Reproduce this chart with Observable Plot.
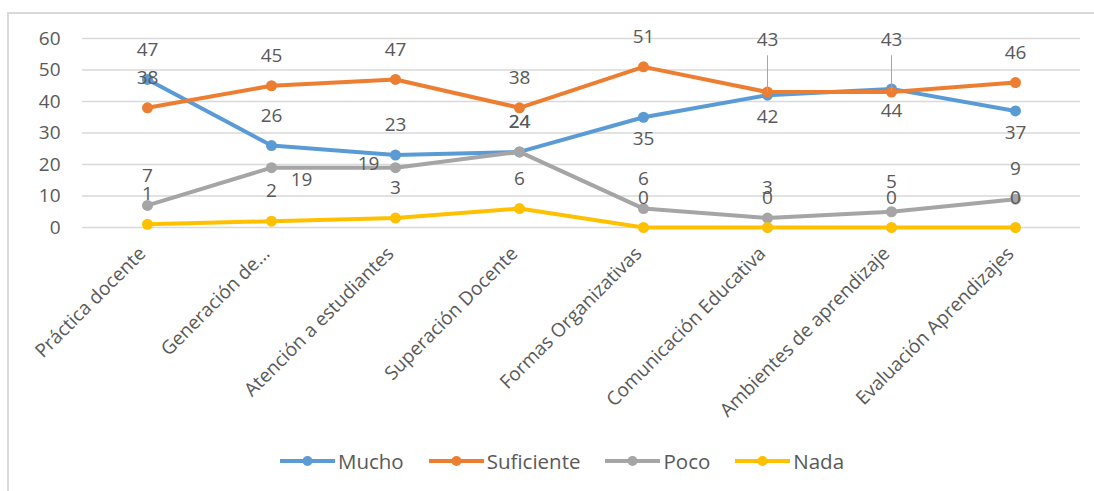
<!DOCTYPE html>
<html>
<head>
<meta charset="utf-8">
<script src="https://cdn.jsdelivr.net/npm/d3@7"></script>
<script src="https://cdn.jsdelivr.net/npm/@observablehq/plot@0.6"></script>
<style>
  html, body { margin: 0; padding: 0; background: #fff; }
  #wrap { position: relative; width: 1094px; height: 491px; overflow: hidden; font-family: "Open Sans", sans-serif; }
  #frame { position: absolute; left: 7px; top: 12px; width: 1100px; height: 500px; border-left: 2px solid #d9d9d9; border-top: 2px solid #d9d9d9; }
  #chart { position: absolute; left: 0; top: 0; }
  #legend { position: absolute; left: 15px; top: 447px; width: 1094px; display: flex; justify-content: center; gap: 25px; font-size: 20.5px; color: #595959; }
  .item { display: flex; align-items: center; gap: 3px; }
</style>
</head>
<body>
<div id="wrap">
  <div id="frame"></div>
  <div id="chart"></div>
  <div id="legend"></div>
</div>
<script>
const categories = ["Práctica docente", "Generación de...", "Atención a estudiantes", "Superación Docente", "Formas Organizativas", "Comunicación Educativa", "Ambientes de aprendizaje", "Evaluación Aprendizajes"];
const series = ["Mucho", "Suficiente", "Poco", "Nada"];
const mucho = [47, 26, 23, 24, 35, 42, 44, 37];
const suficiente = [38, 45, 47, 38, 51, 43, 43, 46];
const poco = [7, 19, 19, 24, 6, 3, 5, 9];
const nada = [1, 2, 3, 6, 0, 0, 0, 0];
const colors = ["#5B9BD5", "#ED7D31", "#A5A5A5", "#FFC000"];
const yTicks = [0, 10, 20, 30, 40, 50, 60];

const values = [mucho, suficiente, poco, nada];
const rows = series.flatMap((s, si) => values[si].map((v, i) => ({series: s, cat: categories[i], value: v, i})));

// label placement (Excel-like positions)
function placement(d) {
  if (d.series === "Mucho" && d.i >= 4) return "below";
  if (d.series === "Suficiente" && (d.i === 5 || d.i === 6)) return "leader";
  if (d.series === "Poco" && d.i === 1) return "right";
  if (d.series === "Poco" && d.i === 2) return "left";
  return "above";
}
const offsets = {above: [0, -30], below: [0, 22], leader: [0, -52], right: [30, 12], left: [-27, -4]};

const labelMarks = Object.entries(offsets).map(([k, [dx, dy]]) =>
  Plot.text(rows.filter(d => placement(d) === k), {
    x: "cat", y: "value", text: d => String(d.value), dx, dy,
    fill: "#595959", fontSize: 19
  })
);

const leaders = rows.filter(d => placement(d) === "leader");

const seriesMarks = series.flatMap(s => [
  Plot.line(rows.filter(d => d.series === s), {x: "cat", y: "value", stroke: "series", strokeWidth: 4, strokeLinejoin: "round", strokeLinecap: "round"}),
  Plot.dot(rows.filter(d => d.series === s), {x: "cat", y: "value", fill: "series", r: 5.5})
]);

const chart = Plot.plot({
  width: 1094,
  height: 435,
  marginTop: 38,
  marginBottom: 208,
  marginLeft: 82,
  marginRight: 14,
  style: {fontFamily: "Open Sans, sans-serif", fontSize: "19px", color: "#595959", background: "transparent", overflow: "visible"},
  x: {type: "point", domain: categories, padding: 0.5, label: null},
  y: {domain: [0, 60], ticks: yTicks, label: null},
  color: {domain: series, range: colors},
  marks: [
    Plot.gridY(yTicks, {stroke: "#d9d9d9", strokeOpacity: 1, strokeWidth: 1.5}),
    Plot.axisY(yTicks, {tickSize: 0, tickPadding: 22, fill: "#595959", fontSize: 19, label: null}),
    Plot.axisX({tickRotate: -45, tickSize: 0, tickPadding: 23, dx: -5, fill: "#595959", fontSize: 19, label: null}),
    ...seriesMarks,
    Plot.ruleX(leaders, {x: "cat", y1: "value", y2: d => d.value + 11.5, stroke: "#a6a6a6", strokeWidth: 1}),
    ...labelMarks
  ]
});
document.getElementById("chart").appendChild(chart);

const legend = document.getElementById("legend");
series.forEach((s, i) => {
  const item = document.createElement("div");
  item.className = "item";
  item.innerHTML = `<svg width="55" height="14"><line x1="0" y1="7" x2="55" y2="7" stroke="${colors[i]}" stroke-width="4"/><circle cx="27.5" cy="7" r="5" fill="${colors[i]}"/></svg><span>${s}</span>`;
  legend.appendChild(item);
});
</script>
</body>
</html>
